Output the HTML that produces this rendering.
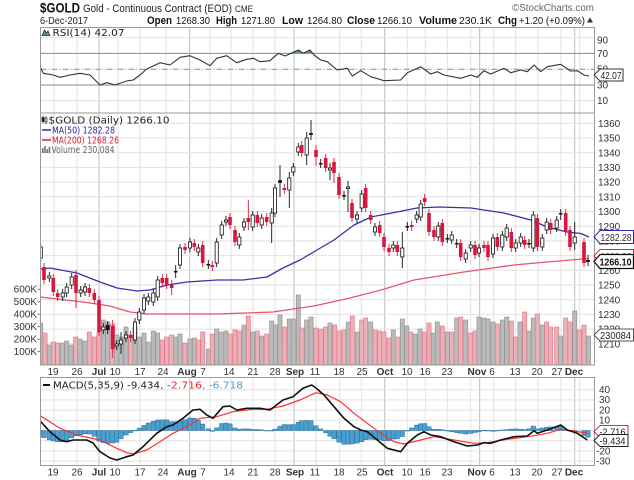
<!DOCTYPE html>
<html><head><meta charset="utf-8"><style>
html,body{margin:0;padding:0;background:#fff;}
svg{display:block;}
text{font-family:"Liberation Sans",Arial,sans-serif;}
.lg{font-family:"DejaVu Sans","Liberation Sans",sans-serif;font-size:9.5px;}
.ax{font-size:10px;fill:#333;}
</style></head><body>
<svg id="s" width="634" height="480" viewBox="0 0 634 480" xmlns="http://www.w3.org/2000/svg">
<defs>
<clipPath id="cR"><rect x="40.5" y="27.5" width="554" height="85.5"/></clipPath>
<clipPath id="cG"><rect x="40.5" y="27.5" width="554" height="25.9"/></clipPath>
<clipPath id="cP"><rect x="40.5" y="113" width="554" height="252"/></clipPath>
<clipPath id="cM"><rect x="40.5" y="377.5" width="554" height="88"/></clipPath>
</defs>
<rect x="0" y="0" width="634" height="480" fill="#fff"/>
<g id="dyn"></g>

<!-- panel borders -->
<g fill="none" stroke="#9a9a9a" stroke-width="1">
<rect x="40.5" y="27.5" width="554" height="85.5"/>
<rect x="40.5" y="113" width="554" height="252"/>
<rect x="40.5" y="377.5" width="554" height="88"/>
</g>

<!-- header -->
<text x="40" y="12.7" font-size="14" font-weight="bold" fill="#111" textLength="40" lengthAdjust="spacingAndGlyphs">$GOLD</text>
<text x="83" y="12" font-size="11" fill="#222" textLength="149" lengthAdjust="spacingAndGlyphs">Gold - Continuous Contract (EOD)</text>
<text x="235" y="12" font-size="9" fill="#222" textLength="18" lengthAdjust="spacingAndGlyphs">CME</text>
<text x="512" y="11" font-size="10" fill="#666" textLength="82" lengthAdjust="spacingAndGlyphs">©StockCharts.com</text>
<text x="40" y="24" font-size="10" fill="#222" textLength="48" lengthAdjust="spacingAndGlyphs">6-Dec-2017</text>
<g font-size="11" fill="#111">
<text x="147" y="24" font-weight="bold" textLength="25" lengthAdjust="spacingAndGlyphs">Open</text>
<text x="176" y="24" font-size="10.5" textLength="34" lengthAdjust="spacingAndGlyphs">1268.30</text>
<text x="216" y="24" font-weight="bold" textLength="21" lengthAdjust="spacingAndGlyphs">High</text>
<text x="241" y="24" font-size="10.5" textLength="34" lengthAdjust="spacingAndGlyphs">1271.80</text>
<text x="282" y="24" font-weight="bold" textLength="21" lengthAdjust="spacingAndGlyphs">Low</text>
<text x="307" y="24" font-size="10.5" textLength="35" lengthAdjust="spacingAndGlyphs">1264.80</text>
<text x="347" y="24" font-weight="bold" textLength="28" lengthAdjust="spacingAndGlyphs">Close</text>
<text x="377" y="24" font-size="10.5" textLength="35" lengthAdjust="spacingAndGlyphs">1266.10</text>
<text x="419" y="24" font-weight="bold" textLength="38" lengthAdjust="spacingAndGlyphs">Volume</text>
<text x="459" y="24" font-size="10.5" textLength="33" lengthAdjust="spacingAndGlyphs">230.1K</text>
<text x="498" y="24" font-weight="bold" textLength="19" lengthAdjust="spacingAndGlyphs">Chg</text>
<text x="519" y="24" font-size="10.5" textLength="66" lengthAdjust="spacingAndGlyphs">+1.20 (+0.09%)</text>
</g>
<polygon points="587,22.5 593,22.5 590,17.5" fill="#333"/>

<!-- RSI legend -->
<polygon points="42,35.5 44.5,30 46.5,33 48,31 50,35.5" fill="#5d9c5d" stroke="#222" stroke-width="0.7"/>
<text class="lg" x="52.5" y="36.2" fill="#222" textLength="72" lengthAdjust="spacingAndGlyphs">RSI(14) 42.07</text>

<!-- price legend -->
<g stroke="#222" stroke-width="0.7">
<line x1="43" y1="115.5" x2="43" y2="123.5"/><rect x="42" y="117.5" width="2" height="4" fill="#222"/>
<line x1="46" y1="116" x2="46" y2="124"/><rect x="45" y="118" width="2" height="4" fill="#fff"/>
</g>
<text class="lg" x="48.5" y="123.5" fill="#222" textLength="121" lengthAdjust="spacingAndGlyphs">$GOLD (Daily) 1266.10</text>
<line x1="42" y1="130" x2="51" y2="130" stroke="#2a2aa0" stroke-width="1.5"/>
<text class="lg" x="52" y="133.5" fill="#2a2aa0" textLength="63" lengthAdjust="spacingAndGlyphs">MA(50) 1282.28</text>
<line x1="42" y1="140" x2="51" y2="140" stroke="#e0203a" stroke-width="1.5"/>
<text class="lg" x="52" y="143.5" fill="#e0203a" textLength="67" lengthAdjust="spacingAndGlyphs">MA(200) 1268.26</text>
<g fill="#777"><rect x="42" y="148" width="1.6" height="5"/><rect x="44.2" y="146" width="1.6" height="7"/><rect x="46.4" y="149" width="1.6" height="4"/><rect x="48.6" y="147" width="1.6" height="6"/></g>
<text class="lg" x="51.5" y="153" fill="#666" textLength="63" lengthAdjust="spacingAndGlyphs">Volume 230,084</text>

<!-- MACD legend -->
<line x1="43" y1="385" x2="50" y2="385" stroke="#111" stroke-width="2"/>
<text class="lg" x="53" y="388.5" fill="#222" textLength="107" lengthAdjust="spacingAndGlyphs">MACD(5,35,9) -9.434</text>
<text class="lg" x="160" y="388.5" fill="#ee2a2a" textLength="42" lengthAdjust="spacingAndGlyphs">, -2.716</text>
<text class="lg" x="202" y="388.5" fill="#4aa0d0" textLength="41" lengthAdjust="spacingAndGlyphs">, -6.718</text>

<!-- RSI axis -->
<g class="ax">
<text x="597" y="43.5">90</text>
<text x="597" y="57">70</text>
<text x="597" y="72.5">50</text>
<text x="597" y="88.5">30</text>
<text x="597" y="104">10</text>
</g>

<!-- volume axis (left) -->
<g class="ax" text-anchor="end">
<text x="37" y="292.7">600K</text>
<text x="37" y="305.2">500K</text>
<text x="37" y="317.7">400K</text>
<text x="37" y="330.2">300K</text>
<text x="37" y="342.7">200K</text>
<text x="37" y="355.2">100K</text>
</g>
<g stroke="#555" stroke-width="0.8">
<line x1="37.5" y1="289.2" x2="40" y2="289.2"/><line x1="37.5" y1="301.7" x2="40" y2="301.7"/>
<line x1="37.5" y1="314.2" x2="40" y2="314.2"/><line x1="37.5" y1="326.7" x2="40" y2="326.7"/>
<line x1="37.5" y1="339.2" x2="40" y2="339.2"/><line x1="37.5" y1="351.7" x2="40" y2="351.7"/>
</g>

<!-- price axis labels -->
<g id="paxis" class="ax"></g>

<!-- MACD axis -->
<g class="ax">
<text x="599" y="393">40</text>
<text x="599" y="403.2">30</text>
<text x="599" y="413.4">20</text>
<text x="599" y="423.6">10</text>
<text x="596" y="454.4">-20</text>
<text x="596" y="464.6">-30</text>
</g>

<!-- x axis labels -->
<g id="xl1" class="ax" text-anchor="middle"></g>

<!-- tags -->
<path d="M594,75 L600,69 L623,69 L623,81 L600,81 Z" fill="#fff" stroke="#333" stroke-width="1"/>
<text x="600.5" y="79" font-size="10" fill="#222" textLength="21" lengthAdjust="spacingAndGlyphs">42.07</text>

<path d="M594,256 L600,249.5 L633.5,249.5 L633.5,262.5 L600,262.5 Z" fill="#fff" stroke="#e0203a" stroke-width="1"/>
<text x="600.5" y="260" font-size="10" fill="#e0203a" textLength="31" lengthAdjust="spacingAndGlyphs">1268.26</text>
<path d="M594,237 L600,230.5 L633.5,230.5 L633.5,243.5 L600,243.5 Z" fill="#fff" stroke="#2a2aa0" stroke-width="1"/>
<text x="600.5" y="241" font-size="10" fill="#333" textLength="31" lengthAdjust="spacingAndGlyphs">1282.28</text>
<path d="M594,261.5 L600,254.5 L633.5,254.5 L633.5,268.5 L600,268.5 Z" fill="#fff" stroke="#111" stroke-width="1.3"/>
<text x="599.5" y="265.7" font-size="10.5" font-weight="bold" fill="#111" textLength="32" lengthAdjust="spacingAndGlyphs">1266.10</text>

<path d="M594,335 L600,329 L633.5,329 L633.5,341 L600,341 Z" fill="#fff" stroke="#555" stroke-width="1"/>
<text x="600" y="339" font-size="10" fill="#222" textLength="31" lengthAdjust="spacingAndGlyphs">230084</text>

<path d="M594,431.5 L600,425.5 L628,425.5 L628,437.5 L600,437.5 Z" fill="#fff" stroke="#ee2a2a" stroke-width="1"/>
<text x="599.5" y="435.5" font-size="10" fill="#222" textLength="26" lengthAdjust="spacingAndGlyphs">-2.716</text>
<path d="M594,440.5 L600,434.5 L628,434.5 L628,446.5 L600,446.5 Z" fill="#fff" stroke="#222" stroke-width="1"/>
<text x="599.5" y="444.5" font-size="10" fill="#222" textLength="26" lengthAdjust="spacingAndGlyphs">-9.434</text>
</svg>
<script>
(function(){
var NS='http://www.w3.org/2000/svg';
var dyn=document.getElementById('dyn');
function el(tag,a,p){var e=document.createElementNS(NS,tag);for(var k in a)e.setAttribute(k,a[k]);(p||dyn).appendChild(e);return e;}
function Y(p){return 123.3+(1360-p)*1.47;}
function interp(pts,x){if(x<=pts[0][0])return pts[0][1];for(var i=1;i<pts.length;i++){if(x<=pts[i][0]){var a=pts[i-1],b=pts[i];return a[1]+(b[1]-a[1])*(x-a[0])/(b[0]-a[0]);}}return pts[pts.length-1][1];}
function poly(pts){return pts.map(function(p){return p[0]+','+p[1];}).join(' ');}

var weekly=[54,77,118,140,166,210,231,253,275,316,339.7,361.3,407.3,425.3,447.3,470.7,493.7,515.7,538,561,579.7];
var monthly=[99,189.7,294,384.7,479.7,574.7];

var gg=el('g',{});
function vlines(y1,y2){
 weekly.forEach(function(x){el('line',{x1:x,x2:x,y1:y1,y2:y2,stroke:'#e2e2e2','stroke-width':1},gg);});
 monthly.forEach(function(x){el('line',{x1:x,x2:x,y1:y1,y2:y2,stroke:'#bdbdbd','stroke-width':1},gg);});
}
vlines(27.5,113);vlines(113,365);vlines(377.5,465.5);
[37.6,100.8].forEach(function(y){el('line',{x1:40.5,x2:594.5,y1:y,y2:y,stroke:'#e2e2e2'},gg);});
[53.4,85].forEach(function(y){el('line',{x1:40.5,x2:594.5,y1:y,y2:y,stroke:'#8a8a8a'},gg);});
el('line',{x1:40.5,x2:594.5,y1:69.2,y2:69.2,stroke:'#8a8a8a','stroke-dasharray':'6,2,1,2'},gg);
for(var p=1360;p>=1210;p-=10){var y=Y(p);el('line',{x1:40.5,x2:594.5,y1:y,y2:y,stroke:'#e2e2e2'},gg);}
for(var v=40;v>=-30;v-=10){var y=430.5-v*1.02;el('line',{x1:40.5,x2:594.5,y1:y,y2:y,stroke:'#e2e2e2'},gg);}

var rsi=[[40,66.7],[43.3,73.3],[53.3,75],[60,77.3],[70,75],[80,73.3],[90,75],[100,85],[106.7,82.7],[115,85],[126.7,81],[133.3,80],[140,75],[146.7,69],[160,62.7],[170,65],[180,57.3],[190,55.7],[200,60],[210,65.7],[216.7,58.3],[226.7,55.7],[236.7,62.7],[246.7,59.3],[253.3,58.3],[260,61.7],[270,60.7],[278.3,53.3],[285,56],[298.3,50],[303.3,53.3],[310,50],[314,55],[320.7,60],[327.3,61.7],[337.3,70],[347.3,68.3],[352.3,76],[360.7,70.7],[370.7,76.7],[384,80.7],[400.7,80],[407.3,72.7],[420.7,66.7],[430.7,74],[437.3,71.7],[444,75],[460.7,78.3],[470.7,75],[477.3,77.3],[484,70.7],[490.7,74],[504,68.3],[510.7,72.7],[520.7,70],[527.3,71.7],[534,65],[540.7,71.7],[547.3,66.7],[560.7,64.3],[570.7,71],[577.3,70.7],[584,75],[589,76]];
var gr=el('g',{'clip-path':'url(#cG)'});
el('polygon',{points:'40,53.4 '+poly(rsi)+' 589,53.4',fill:'#5d9c5d'},gr);
var rg=el('g',{'clip-path':'url(#cR)'});
el('polyline',{points:poly(rsi),fill:'none',stroke:'#333','stroke-width':1.1,'stroke-linejoin':'round'},rg);

var pg=el('g',{'clip-path':'url(#cP)'});
var vol=[[40.7,323,'g'],[45,333,'p'],[49.3,345,'g'],[53.3,342,'p'],[57.7,343,'p'],[62.3,343,'g'],[66.7,341,'g'],[71,345,'g'],[75.7,337,'p'],[80,339,'g'],[85,341,'g'],[89.3,332,'p'],[94.3,337,'p'],[99,332,'p'],[103.3,320,'g'],[107.7,322,'g'],[112.7,324,'p'],[116.7,335,'g'],[121,337,'g'],[126,327,'g'],[130.7,335,'p'],[135,327,'g'],[139.3,337,'g'],[144,333,'g'],[148.3,342,'g'],[153.3,331,'g'],[157.7,333,'g'],[162.3,340,'p'],[166.7,337,'p'],[171.7,335,'p'],[175.7,337,'g'],[180,334,'g'],[185,343,'p'],[190,339,'g'],[194.3,338,'g'],[198.3,340,'p'],[202.7,332,'p'],[208.3,349,'g'],[212.3,334,'p'],[216.7,329,'g'],[221.7,332,'g'],[226,331,'g'],[230,334,'p'],[235,330,'p'],[239.3,331,'p'],[244,325,'g'],[248.3,316,'p'],[252.7,332,'g'],[257.3,331,'p'],[261.7,336,'g'],[266.7,334,'p'],[271.7,321,'g'],[275.5,325,'g'],[280,315,'g'],[284.3,327,'p'],[289.3,319,'g'],[293.3,319,'g'],[298.3,295,'g'],[302,328,'p'],[306.7,320,'g'],[311,317,'g'],[316,328,'p'],
[321,329,'p'],[325.7,327,'p'],[330,323,'g'],[334.7,325,'p'],[339,331,'p'],[344,330,'p'],[348.3,322,'g'],[352.3,316,'p'],[357.3,332,'g'],[361.7,320,'p'],[365.7,318,'p'],[370.7,322,'g'],[375,330,'p'],[379.7,331,'p'],[384,332,'p'],[389,338,'p'],[393.3,330,'g'],[397.3,337,'p'],[402.3,319,'g'],[406.7,326,'g'],[410.7,332,'p'],[415,334,'g'],[420,329,'g'],[424.5,332,'p'],[429,323,'p'],[433.3,333,'g'],[437.3,322,'g'],[442.3,326,'p'],[447.3,332,'g'],[451.7,332,'p'],[456.7,318,'g'],[460.7,317,'p'],[465.7,320,'g'],[470.7,333,'p'],[475,331,'p'],[479,317,'g'],[484,318,'g'],[488,319,'g'],[493,322,'g'],[497.3,324,'p'],[502.3,320,'g'],[506.7,317,'g'],[511.3,321,'p'],[515.7,337,'p'],[520,322,'g'],[524.7,312,'p'],[529,331,'g'],[533.3,318,'g'],[537.3,314,'p'],[542.3,325,'g'],[546.7,322,'p'],[550.7,327,'p'],[556.7,327,'p'],[560.7,336,'g'],[565.7,318,'p'],[570,322,'p'],[574.7,311,'g'],[579.3,330,'p'],[584,325,'p'],[588.5,336,'g']];
vol.forEach(function(v){
 var pink=v[2]=='p';
 el('rect',{x:v[0]-2.1,y:v[1],width:4.2,height:365-v[1],fill:pink?'#eab0b8':'#bababa',stroke:pink?'#e07080':'#8f8f8f','stroke-width':0.6},pg);
});
var ma50=[[40,269],[50,268],[77,273],[100,282],[117,288],[137,291],[150,290],[167,285],[187,282],[217,280],[243,280],[267,277],[283,268],[300,260],[317,250],[334,240],[354,225],[371,217],[397,212],[417,208],[439,207],[471,208],[504,213],[531,220],[547,227],[567,232],[581,233.5],[589,237]];
var ma200=[[40,297],[83,302],[110,306],[130,312],[147,314],[217,314],[273,312],[300,308],[314,306],[350,298],[381,290],[414,280],[464,272],[514,265],[547,262],[589,258.5]];
el('polyline',{points:poly(ma200),fill:'none',stroke:'#e8566a','stroke-width':1.3,'stroke-linejoin':'round'},pg);
el('polyline',{points:poly(ma50),fill:'none',stroke:'#3434a8','stroke-width':1.3,'stroke-linejoin':'round'},pg);

var c=[[40.7,247,258,'h'],[44,267,280,'r'],[49.3,276,278,'h'],[53.3,278,292,'r'],[57.7,293,297,'r'],[62.7,293,297,'h'],[66.7,287,293,'h'],[71.7,277,285,'h'],[76,275,293,'r',270,308],[80.7,290,293,'h'],[85,287,292,'h'],[89.3,288,293,'r'],[94.3,293,300,'r'],[99,300,332,'r'],[103.3,327,330,'h'],[107.7,325,330,'b'],[112.7,326,349,'r',320,358],[116.7,344,346,'h'],[121,340,344,'h',332,354],[126,335,338,'h'],[130.7,335,338,'r'],[135,322,340,'h'],[139.3,312,320,'h'],[144,298,310,'h'],[148.3,297,301,'h'],[153.3,293,302,'h'],[157.7,280,297,'h'],[162.3,278,283,'r'],[166.7,278,285,'r'],[171.7,285,288,'r',280,295],[175.7,271,272,'b',265,278],[180,248,265,'h'],[185,247,250,'r'],[190,242,248,'h'],[194.3,243,247,'r'],[198.3,248,252,'h'],[202.7,245,263,'r'],[208.3,264,265,'b'],[212.3,265,267,'r'],[216.7,242,263,'h'],[221.7,225,235,'h'],[226,220,222,'h'],[230,217,225,'r'],[235,230,242,'r'],[239.3,237,245,'h'],[244,222,227,'h'],[248.3,218,222,'r',200,230],[252.7,215,227,'h'],[257.3,215,223,'r'],[261.7,218,225,'h'],[266.7,217,222,'r'],[271.7,213,223,'h',208,243],[275,188,213,'h'],[280,180,183,'b',165,197],[284.3,188,190,'r'],[289.3,178,190,'h',172,208],[293.3,167,172,'h'],[298.3,147,152,'h'],[301.7,145,153,'r'],[306.7,138,155,'h',132,165],[311,133,135,'b',120,140],[316,150,157,'r',145,166],
[320.7,163,164,'b'],[325.7,158,168,'r'],[330,168,170,'h',163,180],[334,162,173,'r',158,183],[339,177,195,'r'],[344,195,196,'b'],[348,187,188,'h',181,212],[352,203,218,'r'],[357,215,219,'h'],[361.7,194,208,'h'],[365.7,188,208,'r'],[370.7,215,220,'r'],[375,227,232,'h'],[379.7,225,233,'r'],[384,237,247,'r'],[389,248,252,'r'],[393.3,245,248,'h'],[397.3,245,252,'r'],[402.3,248,257,'h',232,268],[407.3,226,227,'b'],[411.7,225,227,'r'],[416.7,215,219,'h'],[420.7,204,217,'h'],[424.7,198,202,'r'],[429,213,232,'r'],[434,230,237,'r'],[438.3,226,237,'h'],[442.3,223,242,'r'],[447.3,238,239,'b'],[451.7,235,240,'h'],[456.7,243,244,'b'],[460.7,243,257,'r'],[465.7,253,259,'h'],[470.7,245,248,'h'],[475,245,255,'r'],[479,248,253,'h'],[484,245,248,'r'],[488,245,257,'r'],[493,238,254,'h'],[497.3,237,247,'r'],[502.3,235,247,'h'],[506.7,228,237,'h'],[511.3,232,248,'r'],[515.7,243,248,'h'],[520.7,237,243,'h'],[524.7,240,245,'r'],[529,243,244,'b'],[533.3,215,248,'h'],[537.3,218,247,'r'],[542.3,238,247,'h'],[546.7,222,230,'h'],[550.7,223,230,'r'],[556.7,220,228,'h'],[560.7,213,214,'b',209,220],[565.7,213,232,'r'],[570,230,247,'r'],[574.7,237,243,'h',222,250],[584,242,263,'r'],[588,260,262,'b',255,266]];
c.forEach(function(k){
 var x=k[0],t=k[1],b=k[2],ty=k[3];
 var wt=k.length>4?k[4]:t-4,wb=k.length>5?k[5]:b+4;
 var col=ty=='r'?'#d9163c':'#111';
 el('line',{x1:x,x2:x,y1:wt,y2:wb,stroke:col,'stroke-width':0.9},pg);
 var h=Math.max(b-t,1.5);
 if(ty=='r')el('rect',{x:x-1.8,y:t,width:3.6,height:h,fill:'#d9163c'},pg);
 else if(ty=='b')el('rect',{x:x-1.8,y:t,width:3.6,height:h,fill:'#111'},pg);
 else el('rect',{x:x-1.6,y:t,width:3.2,height:h,fill:'#fff',stroke:'#111','stroke-width':0.8},pg);
});

var mg=el('g',{'clip-path':'url(#cM)'});
var macd=[[40.7,421.7],[50,431.7],[60,440],[66.7,441.7],[73,440],[86.7,440],[93,443],[100,451.7],[110,458],[116.7,460],[126.7,456.7],[133,455],[143,446.7],[156.7,433.3],[166.7,426.7],[173,425],[183,418.3],[193,410],[200,409.3],[206.7,415],[213,418.3],[223,406.7],[230,406],[236.7,410],[246.7,408.3],[260,408.3],[270,410],[283,400],[293,396.7],[303,388.3],[311.7,385],[316,388],[324,395],[334,406.7],[344,418.3],[354,426.7],[360.7,430],[367.3,431.7],[377.3,440],[387.3,448.3],[400.7,451.7],[407.3,443.3],[417.3,435],[424,431.7],[430.7,435],[440.7,436.7],[454,441.7],[467.3,446],[477.3,445],[484,442.7],[490.7,443.3],[500.7,440],[514,436.7],[527.3,436],[534,430.7],[537.3,433.3],[547.3,430],[560.7,425],[567.3,430],[577.3,433.3],[587.3,440]];
var sig=[[40.7,416],[60,428.3],[76.7,435],[100,440],[116.7,448.3],[126.7,452.7],[133,454],[146.7,450],[160,441.7],[173,433.3],[190,425],[200,418.3],[216.7,416.7],[233,411.7],[253,409.3],[266.7,409.3],[283,406],[300,400],[316,392.7],[327.3,395],[340.7,401.7],[354,413.3],[367.3,423.3],[380.7,433.3],[394,441.7],[404,444],[420.7,440],[434,436.7],[454,440],[474,443.3],[487.3,442.7],[507.3,439.3],[527.3,436.7],[547.3,433.3],[560.7,429.3],[574,431],[587.3,433.3]];
c.forEach(function(k){
 var x=k[0];
 var h=interp(sig,x)-interp(macd,x);
 var y0=430.5;
 var top=h>0?y0-h:y0, ht=Math.max(Math.abs(h),0.5);
 el('rect',{x:x-2.2,y:top,width:4.4,height:ht,fill:'#4a9fd0',stroke:'#2c6f98','stroke-width':0.5},mg);
});
el('polyline',{points:poly(sig),fill:'none',stroke:'#ff3030','stroke-width':1.2,'stroke-linejoin':'round'},mg);
el('polyline',{points:poly(macd),fill:'none',stroke:'#111','stroke-width':1.6,'stroke-linejoin':'round'},mg);

var pa=document.getElementById('paxis');
for(var p=1360;p>=1210;p-=10){var t=el('text',{x:598,y:(Y(p)+3.6).toFixed(1)},pa);t.textContent=String(p);}

var xl=document.getElementById('xl1');
var labs=[[53,'19'],[77,'26'],[99,'Jul',1],[115,'10'],[140,'17'],[163,'24'],[187,'Aug',1],[203,'7'],[229,'14'],[253,'21'],[275,'28'],[295,'Sep',1],[315,'11'],[339,'18'],[362,'25'],[385,'Oct',1],[407,'10'],[425,'16'],[447,'23'],[477,'Nov',1],[492,'6'],[515,'13'],[537,'20'],[557,'27'],[574,'Dec',1]];
[375,475.5].forEach(function(yy){
 labs.forEach(function(l){var a={x:l[0],y:yy};if(l[2])a['font-weight']='bold';var t=el('text',a,xl);t.textContent=l[1];});
});
})();
</script>
</body></html>
